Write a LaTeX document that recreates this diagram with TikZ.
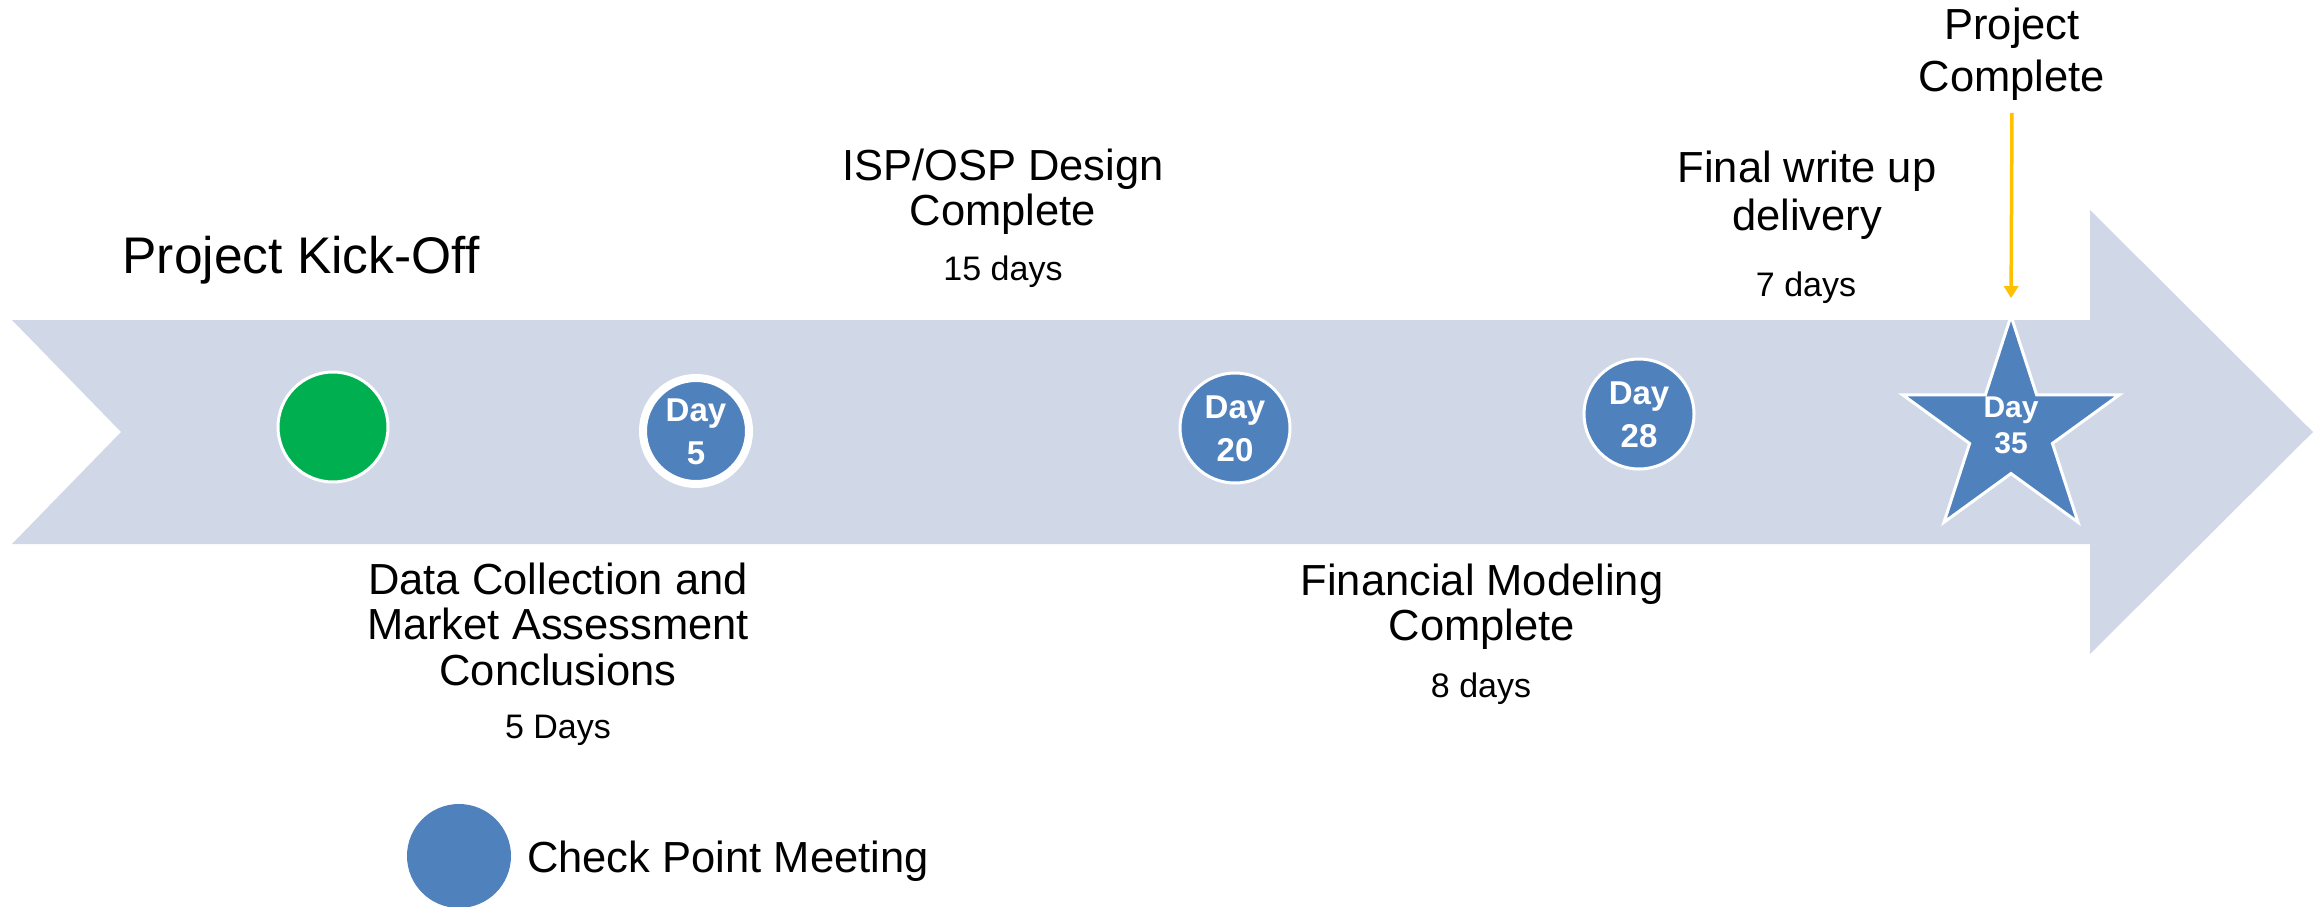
\documentclass[tikz,border=0pt]{standalone}
\usepackage{fontspec}
\setmainfont{Liberation Sans}
\usetikzlibrary{shapes.geometric,arrows.meta}
\definecolor{bandblue}{RGB}{208,216,232}
\definecolor{dotblue}{RGB}{79,129,189}
\definecolor{kickgreen}{RGB}{0,176,80}
\definecolor{markyellow}{RGB}{255,192,0}
\newcommand\mlines[1]{\begin{tabular}[t]{@{}c@{}}#1\end{tabular}}
\tikzset{
  lbl/.style={inner sep=0pt, anchor=base, font=\fontsize{43.5}{45.5}\selectfont},
  dur/.style={inner sep=0pt, anchor=base, font=\fontsize{34}{38}\selectfont},
  dot/.style={circle, fill=dotblue, draw=white, line width=3pt, minimum size=110pt, inner sep=0pt},
  daytxt/.style={inner sep=0pt, anchor=base, text=white, font=\bfseries\fontsize{33}{43}\selectfont},
}
\begin{document}
\begin{tikzpicture}[x=1pt,y=-1pt]
\useasboundingbox (0,0) rectangle (2323,907);
% big arrow band
\fill[bandblue] (12,320) -- (2090,320) -- (2090,210) -- (2313,432) -- (2090,654) -- (2090,544) -- (12,544) -- (121,432) -- cycle;

% milestones
\node[circle, fill=kickgreen, draw=white, line width=3pt, minimum size=110pt, inner sep=0pt] (kick) at (333,427) {};
\node[dot, line width=8pt, minimum size=106pt] (d5) at (696,431) {};
\node[dot] (d20) at (1235,428) {};
\node[dot] (d28) at (1639,414) {};
\node[star, star points=5, star point ratio=2.618, fill=dotblue, draw=white, line width=3pt, minimum size=228pt, inner sep=0pt] (d35) at (2011,430) {};

\node[daytxt] (t5) at (696,421) {\mlines{Day\\5}};
\node[daytxt] (t20) at (1235,418) {\mlines{Day\\20}};
\node[daytxt] (t28) at (1639,404) {\mlines{Day\\28}};
\node[daytxt, font=\bfseries\fontsize{30}{36}\selectfont] (t35) at (2011,417) {\mlines{Day\\35}};

% labels
\node[lbl, font=\fontsize{51.5}{55}\selectfont] (kicklbl) at (301,273) {Project Kick-Off};
\node[lbl, font=\fontsize{43.5}{45}\selectfont] (isp) at (1003,180) {\mlines{ISP/OSP Design\\Complete}};
\node[dur] (isp15) at (1003,280) {15 days};
\node[lbl, font=\fontsize{43.5}{48}\selectfont] (fin) at (1807,182) {\mlines{Final write up\\delivery}};
\node[dur] (fin7) at (1806,296) {7 days};
\node[lbl, font=\fontsize{43.5}{52}\selectfont] (pc) at (2012,40) {\mlines{Project\\Complete}};
\node[lbl] (dc) at (558,594) {\mlines{Data Collection and\\Market Assessment\\Conclusions}};
\node[dur] (dc5) at (558,738) {5 Days};
\node[lbl, font=\fontsize{43.5}{45}\selectfont] (fm) at (1482,595) {\mlines{Financial Modeling\\Complete}};
\node[dur] (fm8) at (1481,697) {8 days};

% pointer to final milestone
\draw[markyellow, line width=3.5pt, -{Triangle[width=14pt,length=12pt]}, shorten <=5pt, shorten >=13pt] (pc.south) -- (d35.north);

% legend
\node[circle, fill=dotblue, minimum size=104pt, inner sep=0pt] (legdot) at (459,856) {};
\node[lbl, anchor=base west] (legtxt) at (527,872) {Check Point Meeting};
\end{tikzpicture}
\end{document}
